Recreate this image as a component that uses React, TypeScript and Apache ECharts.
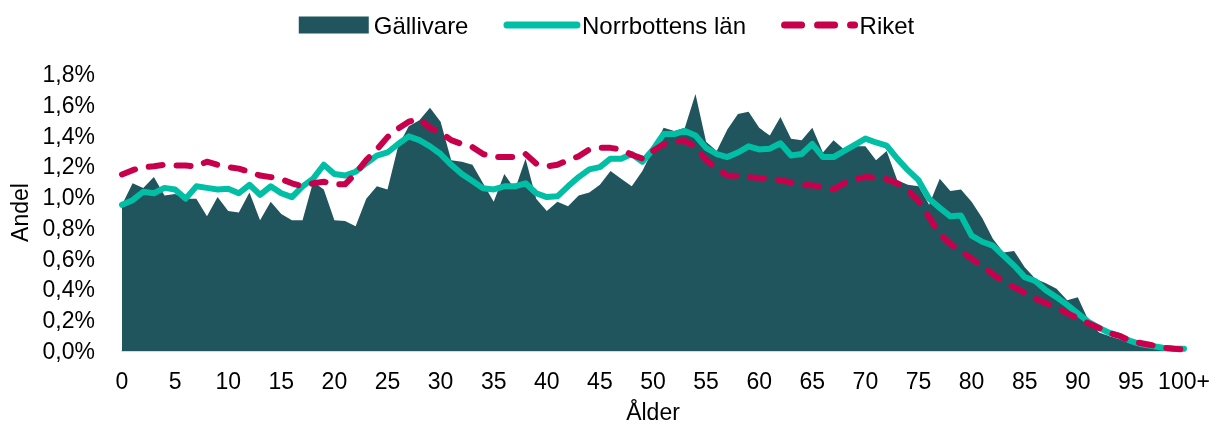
import React, { useEffect, useRef } from "react";
import * as echarts from "echarts";

const ages: string[] = [];
for (let i = 0; i < 100; i++) ages.push(String(i));
ages.push("100+");

const gallivare = [
  0.95, 1.09, 1.06, 1.13, 1.01, 1.02, 0.99, 0.99, 0.876, 1.0,
  0.91, 0.9, 1.03, 0.85, 0.97, 0.89, 0.85, 0.85, 1.1, 1.05,
  0.85, 0.845, 0.81, 0.99, 1.07, 1.05, 1.33, 1.46, 1.5, 1.58,
  1.49, 1.24, 1.23, 1.21, 1.09, 0.97, 1.15, 1.05, 1.25, 0.99,
  0.91, 0.97, 0.94, 1.01, 1.03, 1.08, 1.17, 1.12, 1.07, 1.17,
  1.31, 1.45, 1.43, 1.45, 1.67, 1.36, 1.3, 1.44, 1.54, 1.555,
  1.45, 1.4, 1.52, 1.38, 1.37, 1.45, 1.29, 1.37, 1.31, 1.33,
  1.33, 1.24, 1.3, 1.11, 1.08, 1.07, 0.95, 1.12, 1.04, 1.05,
  0.97, 0.865, 0.73, 0.64, 0.65, 0.545, 0.47, 0.44, 0.405, 0.33,
  0.35, 0.2, 0.12, 0.096, 0.075, 0.05, 0.03, 0.025, 0.015, 0.01,
  0.01,
];

const norrbotten = [
  0.95, 0.98, 1.035, 1.025, 1.06, 1.05, 0.99, 1.07, 1.06, 1.05,
  1.055, 1.025, 1.08, 1.015, 1.07, 1.025, 1.0, 1.07, 1.12, 1.21,
  1.15, 1.14, 1.165, 1.22, 1.27, 1.29, 1.345, 1.395, 1.37, 1.33,
  1.28, 1.21, 1.15, 1.105, 1.057, 1.05, 1.07, 1.07, 1.09, 1.025,
  1.0, 1.005, 1.07, 1.13, 1.18, 1.195, 1.25, 1.25, 1.28, 1.23,
  1.31, 1.41, 1.41, 1.43, 1.4, 1.32, 1.28, 1.26, 1.29, 1.33,
  1.31, 1.315, 1.35, 1.27, 1.28, 1.345, 1.26, 1.26, 1.3, 1.34,
  1.38, 1.355, 1.335, 1.25, 1.175, 1.11, 0.99, 0.93, 0.875, 0.88,
  0.75, 0.71, 0.685, 0.62, 0.555, 0.48, 0.455, 0.395, 0.35, 0.3,
  0.245, 0.19, 0.15, 0.117, 0.096, 0.064, 0.043, 0.032, 0.021, 0.017,
  0.015,
];

const riket = [
  1.147, 1.175, 1.195, 1.2, 1.21, 1.205, 1.205, 1.2, 1.23, 1.21,
  1.195, 1.185, 1.165, 1.14, 1.13, 1.117, 1.09, 1.07, 1.09, 1.1,
  1.083, 1.083, 1.153, 1.24, 1.31, 1.39, 1.445, 1.49, 1.51, 1.45,
  1.42, 1.37, 1.345, 1.325, 1.28, 1.26, 1.26, 1.26, 1.28, 1.217,
  1.2, 1.21, 1.24, 1.265, 1.31, 1.32, 1.32, 1.31, 1.275, 1.25,
  1.3, 1.345, 1.36, 1.365, 1.325, 1.24, 1.185, 1.14, 1.138, 1.13,
  1.125, 1.12, 1.11, 1.095, 1.08, 1.075, 1.07, 1.05, 1.09, 1.12,
  1.13, 1.125, 1.117, 1.09, 1.045, 0.975, 0.87, 0.76, 0.695, 0.65,
  0.6, 0.55, 0.5, 0.45, 0.415, 0.378, 0.34, 0.31, 0.284, 0.245,
  0.213, 0.18, 0.15, 0.117, 0.096, 0.064, 0.05, 0.037, 0.021, 0.015,
  0.01,
];

const FONT = "'Liberation Sans', Arial, sans-serif";
const C_AREA = "#21555E";
const C_TEAL = "#00BFA5";
const C_RED = "#C8004B";
const DASH = [14, 14];
const LEGEND_DASH = [17, 16];

export default function App() {
  const ref = useRef<HTMLDivElement>(null);
  useEffect(() => {
    if (!ref.current) return;
    const chart = echarts.init(ref.current, undefined, { renderer: "svg" });
    const hiddenSymbol = {
      color: "transparent",
      borderColor: "transparent",
      borderWidth: 0,
    };
    chart.setOption({
      animation: false,
      textStyle: { fontFamily: FONT, color: "#000" },
      legend: {
        left: "center",
        top: 8,
        itemWidth: 70,
        itemHeight: 17,
        itemGap: 35,
        textStyle: { fontFamily: FONT, fontSize: 24, color: "#000" },
        data: [
          { name: "Gällivare", icon: "rect" },
          {
            name: "Norrbottens län",
            itemStyle: hiddenSymbol,
            lineStyle: { width: 7, color: C_TEAL, cap: "round" },
          },
          {
            name: "Riket",
            itemStyle: hiddenSymbol,
            lineStyle: { width: 7, color: C_RED, type: LEGEND_DASH, cap: "round" },
          },
        ],
      },
      grid: { left: 122, right: 29, top: 74, bottom: 73, containLabel: false },
      xAxis: {
        type: "category",
        data: ages,
        boundaryGap: false,
        name: "Ålder",
        nameLocation: "middle",
        nameGap: 49,
        nameTextStyle: { fontFamily: FONT, fontSize: 23, color: "#000" },
        axisLine: { show: true, lineStyle: { color: "#D9D9D9", width: 2 } },
        axisTick: { show: false },
        axisLabel: {
          interval: 4,
          margin: 18,
          fontFamily: FONT,
          fontSize: 23,
          color: "#000",
        },
        splitLine: { show: false },
      },
      yAxis: {
        type: "value",
        min: 0,
        max: 1.8,
        interval: 0.2,
        name: "Andel",
        nameLocation: "middle",
        nameRotate: 90,
        nameGap: 90,
        nameTextStyle: { fontFamily: FONT, fontSize: 23, color: "#000" },
        axisLine: { show: false },
        axisTick: { show: false },
        splitLine: { show: false },
        axisLabel: {
          margin: 27,
          fontFamily: FONT,
          fontSize: 23,
          color: "#000",
          formatter: (v: number) => v.toFixed(1).replace(".", ",") + "%",
        },
      },
      series: [
        {
          name: "Gällivare",
          type: "line",
          data: gallivare,
          symbol: "none",
          color: C_AREA,
          lineStyle: { width: 0, color: C_AREA },
          areaStyle: { color: C_AREA, opacity: 1 },
          itemStyle: { color: C_AREA },
        },
        {
          name: "Norrbottens län",
          type: "line",
          data: norrbotten,
          symbol: "none",
          color: C_TEAL,
          lineStyle: { width: 6, color: C_TEAL, cap: "round", join: "round" },
          itemStyle: { color: C_TEAL },
        },
        {
          name: "Riket",
          type: "line",
          data: riket,
          symbol: "none",
          color: C_RED,
          lineStyle: {
            width: 6,
            color: C_RED,
            type: DASH,
            cap: "round",
            join: "round",
          },
          itemStyle: { color: C_RED },
        },
      ],
    });
    return () => chart.dispose();
  }, []);
  return (
    <div
      ref={ref}
      style={{ position: "fixed", left: 0, top: 0, width: 1213, height: 428 }}
    />
  );
}
